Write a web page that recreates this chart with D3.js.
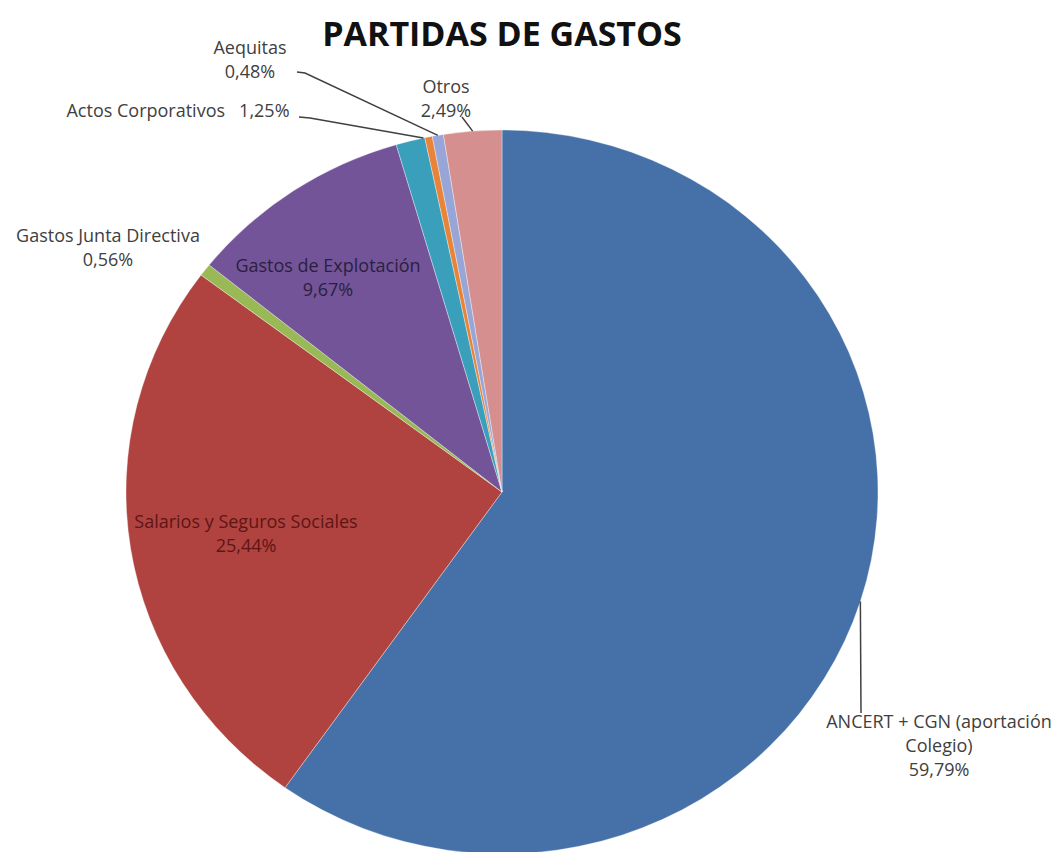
<!DOCTYPE html>
<html lang="es">
<head>
  <meta charset="UTF-8">
  <title>Partidas de gastos</title>
  <style>
    body, html { margin: 0; padding: 0; background: #fff; }
    svg { display: block; }
    text { white-space: pre; }
  </style>
</head>
<body>
  <svg id="svg" width="1063" height="852"></svg>
  <script src="https://d3js.org/d3.v7.min.js"></script>
  <script>
    // data (orange sliver has no label in the original)
    const categories = ['ANCERT + CGN (aportación Colegio)', 'Salarios y Seguros Sociales', 'Gastos Junta Directiva',
      'Gastos de Explotación', 'Actos Corporativos', '(sin etiqueta)', 'Aequitas', 'Otros']
    const values = [59.79, 25.44, 0.56, 9.67, 1.25, 0.32, 0.48, 2.49]
    const labelLines = [
      ['ANCERT + CGN (aportación', 'Colegio)', '59,79%'],
      ['Salarios y Seguros Sociales', '25,44%'],
      ['Gastos Junta Directiva', '0,56%'],
      ['Gastos de Explotación', '9,67%'],
      ['Actos Corporativos   1,25%'],
      [],
      ['Aequitas', '0,48%'],
      ['Otros', '2,49%']
    ]
    const colors = ['#4671a8', '#b0433f', '#98b955', '#735499', '#3a9fbb', '#e8833a', '#97a6d6', '#d68f8f']

    // layout of the labels (x, y of first line, text colour, leader elbow)
    const layout = [
      { x: 939, y: 728, fill: '#404040', elbow: [861, 713], frac: 0.5 },
      { x: 246, y: 528, fill: '#5e1515' },
      { x: 108, y: 242, fill: '#404040' },
      { x: 328, y: 272, fill: '#2b1f40' },
      { x: 178, y: 117, fill: '#404040', elbow: [[299, 117], [310, 118]], frac: 0.95 },
      null,
      { x: 250, y: 54, fill: '#404040', elbow: [[297, 72], [305, 73]], frac: 0.5 },
      { x: 446, y: 93, fill: '#404040', elbow: [[462, 117]], frac: 0.5 }
    ]

    const cx = 502, cy = 492, rx = 376, ry = 362
    const svg = d3.select('#svg')

    svg.append('text')
      .attr('x', 502).attr('y', 46)
      .attr('text-anchor', 'middle')
      .style('font-family', '"Open Sans", sans-serif')
      .style('font-weight', 'bold')
      .style('font-size', '34px')
      .attr('fill', '#111')
      .text('PARTIDAS DE GASTOS')

    const pie = d3.pie().sort(null).value(d => d)
    const arcs = pie(values)
    const arc = d3.arc().innerRadius(0).outerRadius(ry)

    svg.append('g')
      .attr('transform', `translate(${cx},${cy}) scale(${rx / ry},1)`)
      .selectAll('path')
      .data(arcs)
      .enter()
      .append('path')
      .attr('d', arc)
      .attr('fill', (d, i) => colors[i])
      .attr('stroke', '#fff')
      .attr('stroke-opacity', 0.35)
      .attr('stroke-width', 1)
      .attr('vector-effect', 'non-scaling-stroke')

    // point on the rim of the (slightly stretched) pie
    const rim = a => [cx + rx * Math.sin(a), cy - ry * Math.cos(a)]

    arcs.forEach((d, i) => {
      const l = layout[i]
      if (!l) return
      if (l.elbow) {
        const a = d.startAngle + (d.endAngle - d.startAngle) * l.frac
        let pts = Array.isArray(l.elbow[0]) ? l.elbow.slice() : [l.elbow]
        pts.push(rim(a))
        svg.append('path')
          .attr('d', d3.line()(pts))
          .attr('fill', 'none')
          .attr('stroke', '#404040')
          .attr('stroke-width', 1.5)
      }
      const t = svg.append('text')
        .attr('text-anchor', 'middle')
        .style('font-family', '"Open Sans", sans-serif')
        .style('font-size', '18px')
        .attr('fill', l.fill)
      labelLines[i].forEach((s, k) => {
        t.append('tspan').attr('x', l.x).attr('y', l.y + k * 24).text(s)
      })
    })
  </script>
</body>
</html>
